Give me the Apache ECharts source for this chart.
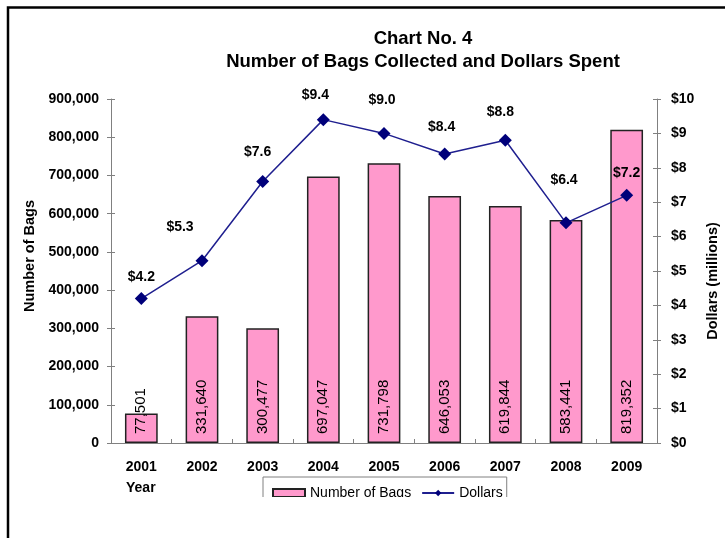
<!DOCTYPE html>
<html>
<head>
<meta charset="utf-8">
<script src="https://cdn.jsdelivr.net/npm/echarts@6/dist/echarts.min.js"></script>
<style>
  html, body { margin: 0; padding: 0; background: #fff; }
  #chart { width: 725px; height: 538px; }
</style>
</head>
<body>
<div id="chart"></div>
<script>
const years = ['2001', '2002', '2003', '2004', '2005', '2006', '2007', '2008', '2009']
const bags = [77501, 331640, 300477, 697047, 731798, 646053, 619844, 583441, 819352]
const dollars = [4.2, 5.3, 7.6, 9.4, 9.0, 8.4, 8.8, 6.4, 7.2]

// where each dollar label sits, relative to its point (label placement only)
const dollarLabelOffsets = [[0, -21], [-22, -34], [-5, -29], [-8, -24], [-2, -33], [-3, -27], [-5, -28], [-2, -43], [0, -22]]

const font = '"Liberation Sans", Arial, sans-serif'
const gray = '#808080'

const chart = echarts.init(document.getElementById('chart'))

// ticks in Excel cross the axis line, so an extra axis draws the inner half
const tickOnly = {
  axisLine: { show: false },
  axisLabel: { show: false },
  splitLine: { show: false },
  axisTick: { show: true, inside: true, length: 4, lineStyle: { color: gray } }
}

const option = {
  backgroundColor: '#fff',
  textStyle: { fontFamily: font },
  title: {
    text: 'Chart No. 4\nNumber of Bags Collected and Dollars Spent',
    left: 418,
    top: 22,
    textAlign: 'center',
    textStyle: { fontSize: 18.5, fontWeight: 'bold', color: '#000', lineHeight: 23, fontFamily: font }
  },
  grid: { left: 111, right: 68, top: 99, bottom: 95, outerBoundsMode: 'none' },
  legend: {
    left: 263,
    top: 477,
    padding: [9, 4, 8, 9],
    itemGap: 10,
    itemWidth: 32,
    itemHeight: 8,
    borderColor: gray,
    borderWidth: 1,
    textStyle: { fontSize: 14, color: '#000', fontFamily: font },
    data: [
      { name: 'Number of Bags', icon: 'rect' },
      { name: 'Dollars' }
    ]
  },
  xAxis: [
    {
      type: 'category',
      data: years,
      axisLine: { lineStyle: { color: gray } },
      axisTick: { length: 4, lineStyle: { color: gray } },
      axisLabel: { margin: 17, fontSize: 14, fontWeight: 'bold', color: '#000', fontFamily: font }
    },
    Object.assign({ type: 'category', data: years, position: 'bottom' }, tickOnly)
  ],
  yAxis: [
    {
      type: 'value',
      min: 0,
      max: 900000,
      interval: 100000,
      name: 'Number of Bags',
      nameLocation: 'middle',
      nameGap: 68,
      nameTextStyle: { fontSize: 14.5, fontWeight: 'bold', color: '#000', fontFamily: font, padding: [0, 0, 0, 30] },
      axisLine: { show: true, lineStyle: { color: gray } },
      axisTick: { show: true, length: 4, lineStyle: { color: gray } },
      splitLine: { show: false },
      axisLabel: {
        margin: 12,
        fontSize: 14,
        fontWeight: 'bold',
        color: '#000',
        fontFamily: font,
        formatter: v => v.toLocaleString('en-US')
      }
    },
    {
      type: 'value',
      min: 0,
      max: 10,
      interval: 1,
      position: 'right',
      name: 'Dollars (millions)',
      nameLocation: 'middle',
      nameGap: 43,
      nameTextStyle: { fontSize: 14.5, fontWeight: 'bold', color: '#000', fontFamily: font, padding: [0, 20, 0, 0] },
      axisLine: { show: true, lineStyle: { color: gray } },
      axisTick: { show: true, length: 4, lineStyle: { color: gray } },
      splitLine: { show: false },
      axisLabel: {
        margin: 14,
        fontSize: 14,
        fontWeight: 'bold',
        color: '#000',
        fontFamily: font,
        formatter: v => '$' + v
      }
    },
    Object.assign({ type: 'value', min: 0, max: 900000, interval: 100000, position: 'left' }, tickOnly),
    Object.assign({ type: 'value', min: 0, max: 10, interval: 1, position: 'right' }, tickOnly)
  ],
  series: [
    {
      name: 'Number of Bags',
      type: 'bar',
      data: bags,
      barWidth: '54%',
      itemStyle: { color: '#FF99CC', borderColor: '#222', borderWidth: 1.5 },
      label: {
        show: true,
        position: 'insideBottom',
        distance: 9,
        rotate: 90,
        align: 'left',
        verticalAlign: 'middle',
        fontSize: 15,
        color: '#000',
        fontFamily: font,
        formatter: p => p.value.toLocaleString('en-US')
      }
    },
    {
      name: 'Dollars',
      type: 'line',
      yAxisIndex: 1,
      symbol: 'diamond',
      symbolSize: 13,
      lineStyle: { color: '#1F1F8F', width: 1.5 },
      itemStyle: { color: '#00007A' },
      data: dollars.map((v, i) => ({
        value: v,
        label: { offset: dollarLabelOffsets[i] }
      })),
      label: {
        show: true,
        position: 'inside',
        fontSize: 14,
        fontWeight: 'bold',
        color: '#000',
        fontFamily: font,
        formatter: p => '$' + p.value.toFixed(1)
      }
    }
  ],
  graphic: [
    {
      type: 'text',
      left: 126,
      top: 481,
      style: { text: 'Year', fontSize: 14, fontWeight: 'bold', fill: '#000', fontFamily: font }
    },
    // the picture is cut off just under the legend
    {
      type: 'rect',
      z: 100,
      shape: { x: 11, y: 497, width: 720, height: 50 },
      style: { fill: '#fff' }
    },
    {
      type: 'rect',
      z: 101,
      shape: { x: 8, y: 7.5, width: 900, height: 900 },
      style: { fill: 'none', stroke: '#000', lineWidth: 2.5 }
    }
  ]
}

chart.setOption(option)
</script>
</body>
</html>
